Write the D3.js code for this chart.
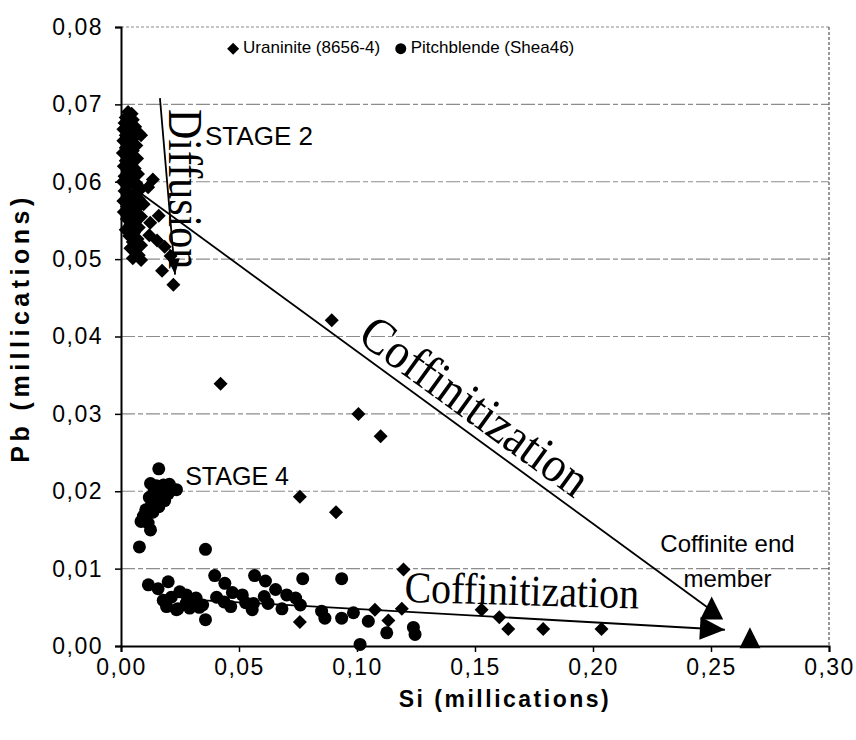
<!DOCTYPE html>
<html><head><meta charset="utf-8">
<script src="https://cdn.jsdelivr.net/npm/d3@7"></script>
<style>body{margin:0;background:#fff;} svg{display:block;}</style>
</head><body>
<svg id="chart" width="856" height="740"></svg>
<script>
// Pb vs Si (millications) — uraninite and pitchblende analyses
const xTicks = [0, 0.05, 0.10, 0.15, 0.20, 0.25, 0.30];
const yTicks = [0, 0.01, 0.02, 0.03, 0.04, 0.05, 0.06, 0.07, 0.08];

// Uraninite (8656-4): [Si, Pb]
const uraniniteCluster = [
  [0.003,0.0690],[0.0045,0.0688],[0.002,0.0683],[0.005,0.0680],[0.0015,0.0676],[0.0035,0.0674],
  [0.006,0.0671],[0.001,0.0668],[0.004,0.0666],[0.0075,0.0663],[0.0085,0.0660],[0.002,0.0660],
  [0.0055,0.0657],[0.001,0.0653],[0.0035,0.0650],[0.0065,0.0647],[0.002,0.0644],[0.005,0.0640],
  [0.0008,0.0637],[0.0035,0.0634],[0.0068,0.0630],[0.002,0.0627],[0.0045,0.0623],[0.0012,0.0620],
  [0.0058,0.0617],[0.003,0.0613],[0.0072,0.0610],[0.0015,0.0607],[0.0045,0.0603],[0.0008,0.0600],
  [0.0065,0.0598],[0.003,0.0595],[0.0085,0.0591],[0.0015,0.0588],[0.0055,0.0585],[0.003,0.0581],
  [0.0075,0.0578],[0.001,0.0575],[0.0045,0.0572],[0.0025,0.0568],[0.0065,0.0565],[0.0012,0.0561],
  [0.0045,0.0558],[0.0085,0.0555],[0.0025,0.0552],[0.006,0.0549],[0.004,0.0545],[0.0075,0.0541],
  [0.002,0.0538],[0.0055,0.0534],[0.0035,0.0530],[0.007,0.0526],[0.005,0.0522],[0.0085,0.0518],
  [0.004,0.0514],[0.006,0.0510],[0.0075,0.0505],[0.005,0.0501],[0.0085,0.0499]
];
const uraniniteSpread = [
  [0.0135,0.0603],[0.0115,0.0593],[0.0096,0.0571],[0.016,0.0556],[0.0124,0.0547],[0.012,0.0531],
  [0.0153,0.0524],[0.0185,0.0516],[0.021,0.0504],[0.0174,0.0485],[0.0222,0.0467],
  [0.0893,0.0421],[0.0422,0.0339],[0.1006,0.0300],[0.1100,0.0271],[0.0758,0.0193],[0.0911,0.0173],
  [0.1197,0.0099],[0.0758,0.0031],[0.1076,0.0047],[0.1133,0.0033],[0.1190,0.0048],
  [0.1528,0.0047],[0.1603,0.0037],[0.1641,0.0022],[0.1789,0.0022],[0.2036,0.0022]
];

// Pitchblende (Shea46): [Si, Pb]
const pitchblendeStage4 = [
  [0.0160,0.0229],[0.0125,0.0210],[0.0150,0.0207],[0.0180,0.0208],[0.0205,0.0209],[0.0235,0.0202],
  [0.0140,0.0200],[0.0170,0.0198],[0.0200,0.0197],[0.0120,0.0192],[0.0155,0.0190],[0.0185,0.0188],
  [0.0130,0.0183],[0.0160,0.0180],[0.0105,0.0176],[0.0135,0.0173],[0.0095,0.0168],[0.0085,0.0161],
  [0.0115,0.0159],[0.0125,0.0150],[0.0078,0.0128],[0.0358,0.0125]
];
const pitchblendeLow = [
  [0.0116,0.0079],[0.0157,0.0074],[0.0200,0.0083],[0.0179,0.0059],[0.0213,0.0063],[0.0193,0.0051],
  [0.0241,0.0048],[0.0249,0.0070],[0.0277,0.0066],[0.0276,0.0055],[0.0235,0.0047],[0.0291,0.0049],
  [0.0318,0.0062],[0.0332,0.0050],[0.0346,0.0053],[0.0358,0.0034],[0.0397,0.0091],[0.0405,0.0063],
  [0.0440,0.0081],[0.0437,0.0057],[0.0472,0.0069],[0.0465,0.0051],[0.0514,0.0066],[0.0528,0.0056],
  [0.0556,0.0047],[0.0566,0.0091],[0.0561,0.0055],[0.0612,0.0084],[0.0607,0.0064],[0.0623,0.0055],
  [0.0655,0.0073],[0.0682,0.0048],[0.0702,0.0066],[0.0740,0.0062],[0.0770,0.0087],[0.0760,0.0053],
  [0.0850,0.0045],[0.0864,0.0036],[0.0935,0.0087],[0.0935,0.0036],[0.0985,0.0043],[0.1048,0.0032],
  [0.1013,0.0002],[0.1126,0.0017],[0.1239,0.0024],[0.1246,0.0015]
];

// Trend lines and reference points
const diffusionArrow = [[0.0165,0.0708],[0.0229,0.0480]];
const coffinitizationUpper = [[0.003,0.0597],[0.2503,0.0046]];
const coffinitizationLower = [[0.035,0.0059],[0.2559,0.0021]];
const coffiniteEndMember = [0.2665,0.0008];

const svg = d3.select("#chart");
const W = 856, H = 740;
svg.append("rect").attr("width", W).attr("height", H).attr("fill", "#fff");

const x = d3.scaleLinear().domain([0, 0.30]).range([121, 829]);
const y = d3.scaleLinear().domain([0, 0.08]).range([646, 27]);
const fmt = v => d3.format(".2f")(v).replace(".", ",");
const sans = "Liberation Sans, Arial, sans-serif";
const serif = "Liberation Serif, Times New Roman, serif";

// grid
svg.append("g").selectAll("line").data(yTicks.filter(v => v > 0)).join("line")
  .attr("x1", x(0)).attr("x2", x(0.30))
  .attr("y1", d => y(d)).attr("y2", d => y(d))
  .attr("stroke", "#8c8c8c").attr("stroke-width", 1.2)
  .attr("stroke-dasharray", d => d === 0.08 ? "3,2" : "14,3,5,3");
// right frame
svg.append("line").attr("x1", x(0.30)).attr("x2", x(0.30)).attr("y1", y(0.08)).attr("y2", y(0))
  .attr("stroke", "#555").attr("stroke-width", 1.2).attr("stroke-dasharray", "3,2");

// axes
const xAxis = d3.axisBottom(x).tickValues(xTicks).tickFormat(fmt).tickSize(6).tickPadding(7);
const yAxis = d3.axisLeft(y).tickValues(yTicks).tickFormat(fmt).tickSize(6).tickPadding(12);
const gx = svg.append("g").attr("transform", `translate(0,${y(0)})`).call(xAxis);
const gy = svg.append("g").attr("transform", `translate(${x(0)},0)`).call(yAxis);
[gx, gy].forEach(g => {
  g.select(".domain").attr("stroke", "#000").attr("stroke-width", 2);
  g.selectAll(".tick line").attr("stroke", "#000").attr("stroke-width", 1.5);
  g.selectAll(".tick text").attr("fill", "#000").attr("font-family", sans)
    .attr("font-size", 23).attr("letter-spacing", 1.5);
});

svg.append("text").attr("x", 505).attr("y", 707).attr("text-anchor", "middle")
  .attr("font-family", sans).attr("font-size", 23).attr("font-weight", "bold").attr("letter-spacing", 2.5)
  .text("Si (millications)");
svg.append("text").attr("transform", `translate(22,328) rotate(-90)`)
  .attr("text-anchor", "middle").attr("dominant-baseline", "middle")
  .attr("font-family", sans).attr("font-size", 25).attr("font-weight", "bold").attr("letter-spacing", 4.5)
  .text("Pb (millications)");

// lines
const line = d3.line().x(d => x(d[0])).y(d => y(d[1]));
[coffinitizationUpper, coffinitizationLower, diffusionArrow].forEach(seg =>
  svg.append("path").attr("d", line(seg)).attr("stroke", "#000").attr("stroke-width", 1.8).attr("fill", "none"));

// arrowheads
function arrowHead(p0, p1, len, half) {
  const x0 = x(p0[0]), y0 = y(p0[1]), x1 = x(p1[0]), y1 = y(p1[1]);
  const a = Math.atan2(y1 - y0, x1 - x0);
  const bx = x1 - len * Math.cos(a), by = y1 - len * Math.sin(a);
  const nx = -Math.sin(a) * half, ny = Math.cos(a) * half;
  return `M${x1},${y1}L${bx + nx},${by + ny}L${bx - nx},${by - ny}Z`;
}
svg.append("path").attr("d", arrowHead(diffusionArrow[0], diffusionArrow[1], 16, 6)).attr("fill", "#000");
svg.append("path").attr("d", arrowHead(coffinitizationLower[0], coffinitizationLower[1], 25, 11.5)).attr("fill", "#000");

// triangles
const tri = (cx, cy, s) => `M${cx},${cy - s * 0.6}L${cx + s / 2},${cy + s * 0.4}L${cx - s / 2},${cy + s * 0.4}Z`;
svg.append("path").attr("d", tri(x(coffinitizationUpper[1][0]), y(coffinitizationUpper[1][1]), 23)).attr("fill", "#000");
svg.append("path").attr("d", tri(x(coffiniteEndMember[0]), y(coffiniteEndMember[1]), 21)).attr("fill", "#000");

// markers
const diamond = (cx, cy, r) => `M${cx},${cy - r}L${cx + r},${cy}L${cx},${cy + r}L${cx - r},${cy}Z`;
const uraninite = uraniniteCluster.concat(uraniniteSpread);
const pitchblende = pitchblendeStage4.concat(pitchblendeLow);
svg.append("g").selectAll("circle").data(pitchblende).join("circle")
  .attr("cx", d => x(d[0])).attr("cy", d => y(d[1])).attr("r", 6.5).attr("fill", "#000");
svg.append("g").selectAll("path").data(uraninite).join("path")
  .attr("d", d => diamond(x(d[0]), y(d[1]), 7)).attr("fill", "#000");

// annotations
svg.append("text").attr("x", x(0.0356)).attr("y", y(0.0648)).attr("font-family", sans).attr("font-size", 26).text("STAGE 2");
svg.append("text").attr("x", x(0.0272)).attr("y", y(0.0208)).attr("font-family", sans).attr("font-size", 25).text("STAGE 4");
svg.append("text").attr("transform", `translate(${x(0.0202)},${y(0.0694)}) rotate(90) scale(1,1.15)`)
  .attr("font-family", serif).attr("font-size", 42).text("Diffusion");
svg.append("text").attr("transform", `translate(${x(0.0996)},${y(0.0395)}) rotate(36) scale(1,1.1)`)
  .attr("font-family", serif).attr("font-size", 46).text("Coffinitization");
svg.append("text").attr("transform", `translate(${x(0.1200)},${y(0.0057)}) rotate(1.6) scale(1,1.1)`)
  .attr("font-family", serif).attr("font-size", 40).text("Coffinitization");
svg.append("text").attr("x", x(0.257)).attr("y", y(0.0122)).attr("text-anchor", "middle")
  .attr("font-family", sans).attr("font-size", 24).text("Coffinite end");
svg.append("text").attr("x", x(0.257)).attr("y", y(0.0076)).attr("text-anchor", "middle")
  .attr("font-family", sans).attr("font-size", 24).text("member");

// legend
const lg = svg.append("g");
const ly = y(0.0772);
const legendX1 = 0.0475, legendX2 = 0.1160;
lg.append("path").attr("d", diamond(x(legendX1), ly, 6)).attr("fill", "#000");
lg.append("text").attr("x", x(legendX1) + 10).attr("y", ly).attr("dominant-baseline", "middle")
  .attr("font-family", sans).attr("font-size", 17).text("Uraninite (8656-4)");
lg.append("circle").attr("cx", x(legendX2) + 6).attr("cy", ly).attr("r", 5.5).attr("fill", "#000");
lg.append("text").attr("x", x(legendX2) + 16).attr("y", ly).attr("dominant-baseline", "middle")
  .attr("font-family", sans).attr("font-size", 17).text("Pitchblende (Shea46)");
</script>
</body></html>
